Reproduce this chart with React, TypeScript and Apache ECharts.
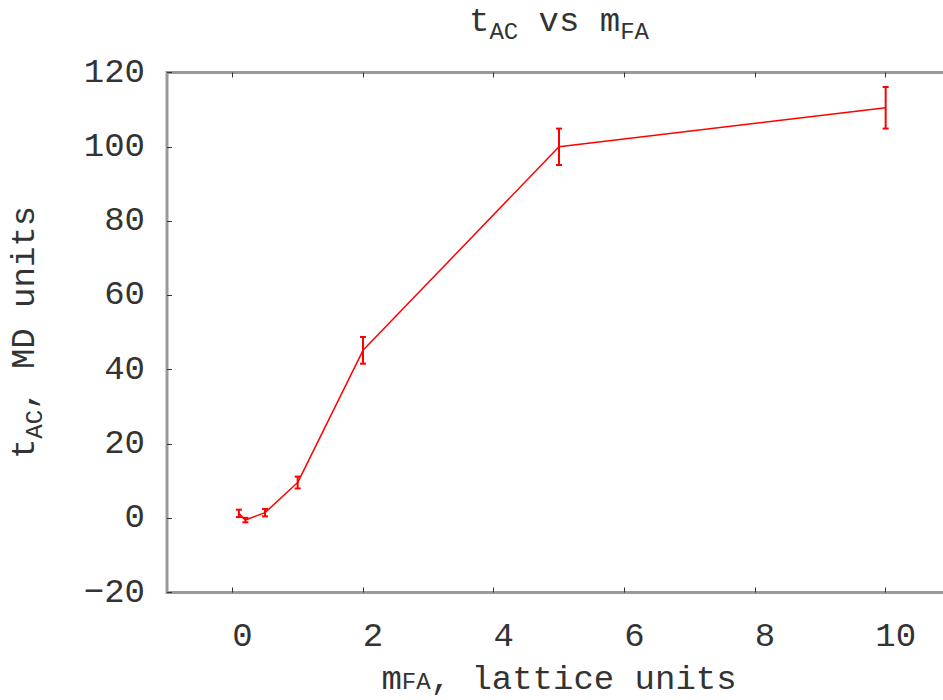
import React, { useEffect, useRef } from "react";
import * as echarts from "echarts";

const xValues = [0.1, 0.2, 0.5, 1, 2, 5, 10];
const yValues = [1.3, -0.5, 1.5, 9.6, 45.2, 100, 110.5];
const yErrors = [1, 0.6, 1, 1.6, 3.6, 4.9, 5.6];
const xTickValues = [0, 2, 4, 6, 8, 10];

const FONT = "Liberation Mono";
const TXT = "#333";

const rich = {
  m: { fontFamily: FONT, fontSize: 34, fontWeight: "normal", color: TXT, lineHeight: 44, verticalAlign: "middle" },
  s: { fontFamily: FONT, fontSize: 24, fontWeight: "normal", color: TXT, lineHeight: 22, verticalAlign: "bottom" },
};
const richX = {
  m: { fontFamily: FONT, fontSize: 34, fontWeight: "normal", color: TXT, lineHeight: 30, verticalAlign: "middle" },
  s: { fontFamily: FONT, fontSize: 24, fontWeight: "normal", color: TXT, lineHeight: 16, verticalAlign: "bottom" },
};

export default function App() {
  const ref = useRef<HTMLDivElement>(null);
  useEffect(() => {
    if (!ref.current) return;
    const chart = echarts.init(ref.current, null, { renderer: "svg" });
    const lineData = xValues.map((x, i) => [x, yValues[i]]);
    const errData = xValues.map((x, i) => [x, yValues[i], yErrors[i]]);
    const tickStyle = { show: true, inside: true, length: 5, lineStyle: { color: "#333", width: 1 } };
    const axisCommon = {
      type: "value" as const,
      min: -1,
      max: 11,
      splitLine: { show: false },
      axisLine: { show: false, onZero: false },
    };
    chart.setOption({
      animation: false,
      backgroundColor: "#fff",
      title: {
        text: "{m|t}{s|AC}{m| vs m}{s|FA}",
        left: 559,
        textAlign: "center",
        top: 0,
        padding: 0,
        textStyle: { rich, fontWeight: "normal" },
      },
      grid: {
        left: 167,
        top: 72.5,
        right: -8,
        bottom: 107.5,
        outerBoundsMode: "none",
        containLabel: false,
        show: true,
        borderColor: "#999",
        borderWidth: 3,
        backgroundColor: "transparent",
      },
      xAxis: [
        {
          ...axisCommon,
          position: "bottom",
          axisTick: { ...tickStyle, customValues: xTickValues },
          axisLabel: {
            show: true,
            customValues: xTickValues,
            margin: 27,
            padding: [0, 0, 0, 20],
            fontFamily: FONT,
            fontSize: 34,
            color: TXT,
          },
          name: "{m|m}{s|FA}{m|, lattice units}",
          nameLocation: "middle",
          nameGap: 72,
          nameTextStyle: { rich: richX },
        },
        {
          ...axisCommon,
          position: "top",
          axisTick: { ...tickStyle, customValues: xTickValues },
          axisLabel: { show: false },
        },
      ],
      yAxis: {
        type: "value",
        min: -20,
        max: 120,
        interval: 20,
        splitLine: { show: false },
        axisLine: { show: false, onZero: false },
        axisTick: tickStyle,
        axisLabel: {
          margin: 22,
          fontFamily: FONT,
          fontSize: 34,
          color: TXT,
          formatter: (v: number) => String(v).replace("-", "\u2212"),
        },
        name: "{m|t}{s|AC}{m|, MD units}",
        nameLocation: "middle",
        nameGap: 120,
        nameTextStyle: { rich },
      },
      series: [
        {
          type: "line",
          data: lineData,
          showSymbol: false,
          lineStyle: { color: "#ff0000", width: 1.5 },
          itemStyle: { color: "#ff0000" },
          z: 3,
        },
        {
          type: "custom",
          data: errData,
          z: 4,
          renderItem: (params: any, api: any) => {
            const x = api.value(0);
            const y = api.value(1);
            const e = api.value(2);
            const lo = api.coord([x, y - e]);
            const hi = api.coord([x, y + e]);
            const c = 3;
            const style = { stroke: "#ff0000", lineWidth: 2 };
            return {
              type: "group",
              children: [
                { type: "line", shape: { x1: lo[0], y1: lo[1], x2: hi[0], y2: hi[1] }, style },
                { type: "line", shape: { x1: lo[0] - c, y1: lo[1], x2: lo[0] + c, y2: lo[1] }, style },
                { type: "line", shape: { x1: hi[0] - c, y1: hi[1], x2: hi[0] + c, y2: hi[1] }, style },
              ],
            };
          },
        },
      ],
    });
    return () => chart.dispose();
  }, []);
  return <div ref={ref} style={{ width: 943, height: 700, position: "absolute", left: 0, top: 0 }} />;
}
